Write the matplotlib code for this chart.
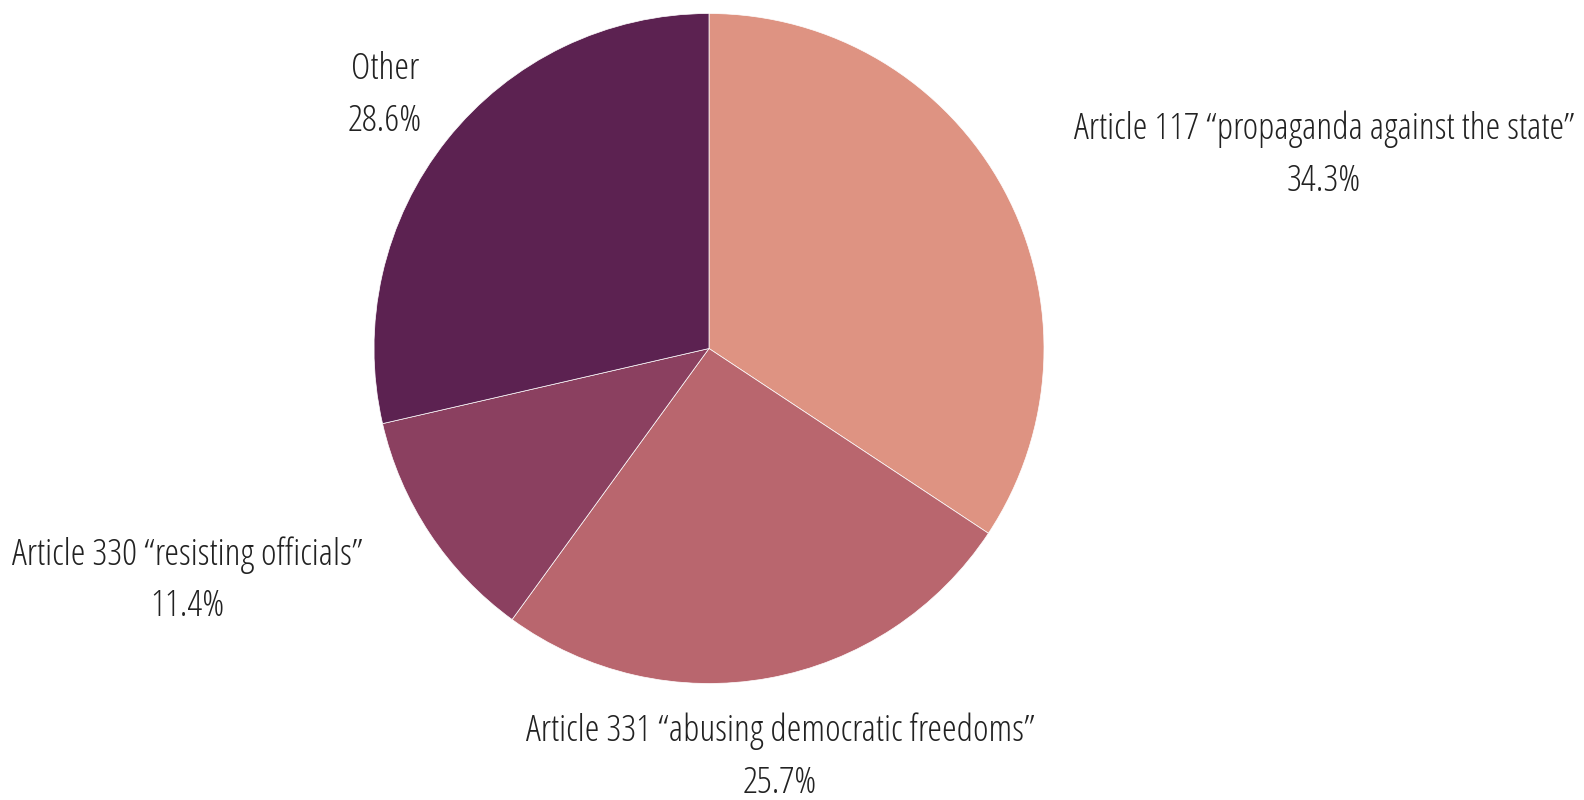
import matplotlib
matplotlib.use("Agg")
import matplotlib.pyplot as plt
from matplotlib import font_manager
from matplotlib.font_manager import FontProperties

categories = ['Article 117 \u201cpropaganda against the state\u201d',
              'Article 331 \u201cabusing democratic freedoms\u201d',
              'Article 330 \u201cresisting officials\u201d',
              'Other']
values = [34.3, 25.7, 11.4, 28.6]
colors = ['#DE9382', '#B9666E', '#8B4060', '#5C2251']

# pick a condensed light font similar to Open Sans Condensed Light
files = [f.fname for f in font_manager.fontManager.ttflist]
prefs = ['OpenSansCondensed-Light', 'OpenSans_Condensed-Light', 'OpenSansCondensed',
         'OpenSans_Condensed', 'OpenSans-CondLight', 'FiraSansExtraCondensed-Light',
         'FiraSansCondensed-Light', 'BarlowCondensed-Light', 'AsapCondensed-Light',
         'DejaVuSansCondensed.ttf']
chosen = None
for p in prefs:
    for f in files:
        if p.lower() in f.split('/')[-1].lower() and 'italic' not in f.lower():
            chosen = f
            break
    if chosen:
        break
fp = FontProperties(fname=chosen) if chosen else FontProperties(family='DejaVu Sans')

W, H = 1584, 800
fig = plt.figure(figsize=(W/100, H/100), dpi=100)
cx, cy, r = 709, 348.5, 335
ax = fig.add_axes([(cx - r)/W, (H - cy - r)/H, 2*r/W, 2*r/H])
ax.pie(values, colors=colors, startangle=90, counterclock=False,
       wedgeprops=dict(edgecolor='white', linewidth=0.5))
ax.set_xlim(-1, 1)
ax.set_ylim(-1, 1)
ax.set_aspect('equal')
ax.axis('off')

# size the font so the longest label matches the reference width (~500 px)
renderer = fig.canvas.get_renderer()
probe = fig.text(0, 0, categories[0], fontproperties=fp, fontsize=20)
w20 = probe.get_window_extent(renderer).width
probe.remove()
fp.set_size(20 * 500 / w20)

# label centre x and baseline y of the first line (pixels from top-left)
label_pos = [(1324, 139), (780, 741), (187, 564.5), (385, 79)]
line_gap = 52
for cat, v, (px, py) in zip(categories, values, label_pos):
    for txt, yy in ((cat, py), (f"{v:.1f}%", py + line_gap)):
        ax.text((px - cx)/r, (cy - yy)/r, txt, ha='center', va='baseline',
                fontproperties=fp, color='#222222', clip_on=False)

fig.savefig('out.png', dpi=100, facecolor='white')
